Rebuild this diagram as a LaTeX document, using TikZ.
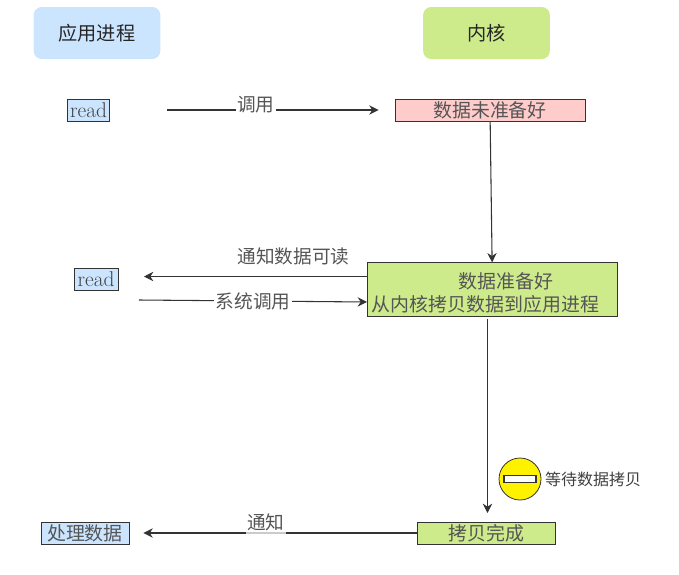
\documentclass[tikz,border=0pt]{standalone}
\usepackage{xcolor}
\usepackage{fontspec}
\usetikzlibrary{calc, positioning, arrows.meta}
\newfontfamily\cjk{Noto Sans CJK SC}
\definecolor{appblue}{HTML}{CCE5FF}
\definecolor{kernelgreen}{HTML}{CDEB8B}
\definecolor{notepink}{HTML}{FFCCCC}
\definecolor{linegray}{HTML}{333333}
\definecolor{labelgray}{HTML}{555555}

\begin{document}
\begin{tikzpicture}[x=0.75pt, y=-0.75pt,
    head/.style={rounded corners=6pt, minimum width=95pt, minimum height=39pt, font=\cjk\fontsize{14.4}{17}\selectfont, text=black!85},
    stepbox/.style={draw=linegray, line width=0.7pt, minimum height=16.5pt, inner sep=0pt, font=\cjk\fontsize{14.2}{17}\selectfont, text=labelgray},
    readbox/.style={stepbox, fill=appblue, font=\fontsize{16}{17}\selectfont, text=black!75},
    flow/.style={-{Stealth[length=7pt, width=7pt]}, line width=0.8pt, draw=linegray},
    lbl/.style={fill=white, inner xsep=1pt, inner ysep=0pt, font=\cjk\fontsize{14}{16}\selectfont, text=labelgray}]
\useasboundingbox (0,0) rectangle (679,575);
% nodes %
\node[head, fill=appblue] (app) at (97,33) {应用进程};
\node[head, fill=kernelgreen] (kernel) at (486.5,33) {内核};
\node[readbox, minimum width=32pt] (readone) at (88.5,110) {read};
\node[stepbox, fill=notepink, minimum width=142.5pt] (notready) at (490,110) {数据未准备好};
\node[readbox, minimum width=33pt] (readtwo) at (96,279) {read};
\node[stepbox, fill=kernelgreen, minimum width=188pt, minimum height=40pt, align=left] (ready) at (492.5,289.5) {\rule{0pt}{17pt}\hspace*{65pt}数据准备好\\从内核拷贝数据到应用进程\hspace*{10.5pt}};
\node[stepbox, fill=kernelgreen, minimum width=103pt] (done) at (486.5,533) {拷贝完成};
\node[stepbox, fill=appblue, minimum width=66pt] (handle) at (85,533) {处理数据};
\node[circle, draw=linegray, fill=yellow, line width=0.6pt, minimum size=31.5pt, inner sep=0pt] (waitsign) at (520,479) {};
\node[rectangle, draw=linegray, fill=white, line width=0.8pt, minimum width=24pt, minimum height=5.5pt, inner sep=0pt] (waitbar) at (waitsign) {};
\node[right=0.5pt of waitsign, inner sep=2pt, font=\cjk\fontsize{12}{14}\selectfont, text=black!75] (waittext) {等待数据拷贝};
\coordinate (nfyfrom) at (367,276.5);
\coordinate (nfyto) at (144,276.5);
\coordinate (sysfrom) at (139,300);
\coordinate (systo) at (367,302);
\coordinate (copyfrom) at (487.5,319);
\coordinate (copyto) at (487.5,513);
% edges %
\draw[flow, shorten <=42.75pt, shorten >=12pt] (readone) -- node[lbl, pos=0.512, yshift=4pt] {调用} (notready);
\draw[flow] (notready) -- (ready);
\draw[flow] (nfyfrom) -- (nfyto) node[pos=0.33, lbl, yshift=15pt] {通知数据可读};
\draw[flow] (sysfrom) -- node[lbl, pos=0.5] {系统调用} (systo);
\draw[flow] (copyfrom) -- (copyto);
\draw[flow, shorten >=10.5pt] (done) -- node[lbl, pos=0.526, yshift=8pt, fill opacity=0.75, text opacity=1, inner ysep=2.5pt] {通知} (handle);
\end{tikzpicture}
\end{document}
